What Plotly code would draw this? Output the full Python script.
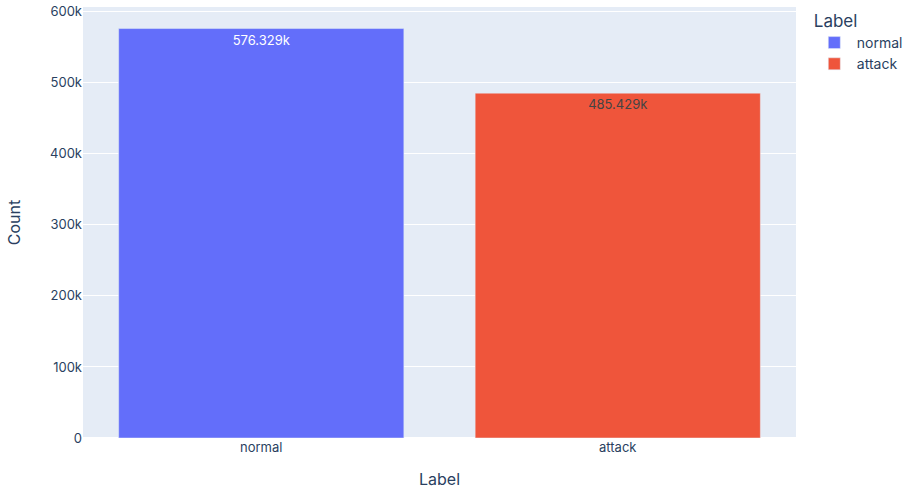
import plotly.graph_objects as go

labels = ["normal", "attack"]
counts = [576329, 485429]
colors = ["#636efa", "#EF553B"]

fig = go.Figure()
for lab, cnt, col in zip(labels, counts, colors):
    fig.add_trace(go.Bar(
        x=[lab], y=[cnt], name=lab, legendgroup=lab,
        marker=dict(color=col), texttemplate="%{y}", textposition="auto",
    ))

fig.update_layout(
    width=903, height=489,
    template="plotly",
    barmode="relative",
    font=dict(family="Inter", size=13),
    legend=dict(title=dict(text="Label"), tracegroupgap=0, itemwidth=35,
                font=dict(size=14),
                xref="container", x=0.899, xanchor="left",
                yref="container", y=0.99, yanchor="top"),
    margin=dict(l=83, r=107, t=7, b=51, autoexpand=False),
    xaxis=dict(title=dict(text="Label", standoff=22), categoryorder="array",
               categoryarray=labels, automargin=False),
    yaxis=dict(title=dict(text="Count", standoff=25), automargin=False),
)
fig.write_html("out.html")
